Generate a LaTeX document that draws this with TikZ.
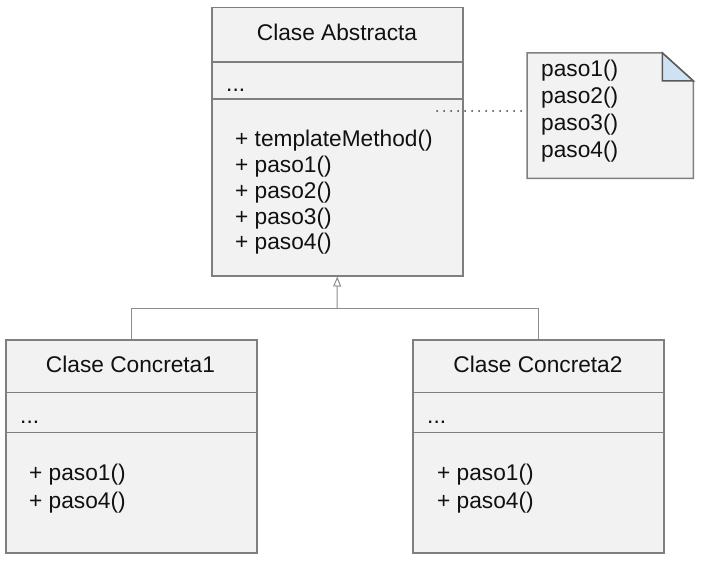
\documentclass[tikz,border=0pt]{standalone}
\usepackage{fontspec}
\setmainfont{Liberation Sans}
\usetikzlibrary{arrows.meta}

\definecolor{boxfill}{HTML}{F2F2F2}
\definecolor{boxline}{HTML}{7F7F7F}
\definecolor{linkline}{HTML}{8C8C8C}
\definecolor{foldfill}{HTML}{CFE2F3}
\definecolor{dotline}{HTML}{2E4458}
\definecolor{txt}{HTML}{111111}

\begin{document}
\begin{tikzpicture}[
                x=1pt, y=-1pt,
                classbox/.style={draw=boxline, fill=boxfill, line width=1.5pt,
                    inner sep=0pt, anchor=north west},
                divider/.style={draw=boxline, line width=1.5pt},
                link/.style={draw=linkline, line width=1pt},
                label/.style={inner sep=0pt, text=txt,
                    font=\fontsize{22.7}{25.7}\selectfont}
            ]
            \useasboundingbox (0, 0) rectangle (718, 575);

            % class boxes
            \node[classbox, minimum width=251pt, minimum height=268pt] (abs) at (211, 7) {};
            \node[classbox, minimum width=251pt, minimum height=213pt] (cc1) at (5, 339) {};
            \node[classbox, minimum width=251pt, minimum height=213pt] (cc2) at (412, 339) {};

            \foreach \n/\a/\b in {abs/55/92, cc1/53.5/93.5, cc2/53.5/93.5} {
                \draw[divider] ([yshift=-\a pt]\n.north west) -- ([yshift=-\a pt]\n.north east);
                \draw[divider] ([yshift=-\b pt]\n.north west) -- ([yshift=-\b pt]\n.north east);
            }

            % note
            \node[inner sep=0pt, minimum width=166pt, minimum height=125pt, anchor=north west] (note) at (527, 53) {};
            \draw[draw=boxline, fill=boxfill, line width=1.5pt]
                (note.south west) -- (note.north west) -- ([xshift=-31pt]note.north east)
                -- ([yshift=-28pt]note.north east) -- (note.south east) -- cycle;
            \draw[draw=boxline!70!black, fill=foldfill, line width=1.5pt]
                ([xshift=-31pt]note.north east) -- ([xshift=-31pt, yshift=-28pt]note.north east)
                -- ([yshift=-28pt]note.north east) -- cycle;

            % texts
            \node[label, anchor=base] (absname) at (337, 41) {Clase Abstracta};
            \node[label, anchor=base west] (absattr) at (226, 92) {...};
            \foreach \m [count=\i] in {templateMethod(), paso1(), paso2(), paso3(), paso4()} {
                \node[label, anchor=base west] (absop\i) at (235, {147+25.7*(\i-1)}) {+ \m};
            }

            \node[label, anchor=base] (cc1name) at (130.5, 372) {Clase Concreta1};
            \node[label, anchor=base] (cc2name) at (538, 372) {Clase Concreta2};
            \node[label, anchor=base west] (cc1attr) at (20, 423) {...};
            \node[label, anchor=base west] (cc2attr) at (427, 423) {...};
            \foreach \m [count=\i] in {paso1(), paso4()} {
                \node[label, anchor=base west] (cc1op\i) at (29, {480+28*(\i-1)}) {+ \m};
                \node[label, anchor=base west] (cc2op\i) at (437, {480+28*(\i-1)}) {+ \m};
            }

            \foreach \i in {1, ..., 4} {
                \node[label, anchor=base west] (step\i) at (541, {77+27*(\i-1)}) {paso\i()};
            }

            % connectors
            \coordinate (fork) at (337, 308);
            \draw[link] (cc1.north) |- (fork);
            \draw[link] (cc2.north) |- (fork);
            \draw[link, -{Triangle[open, length=10pt, width=8pt]}] (fork) -- (abs.south);

            \coordinate (anchorpt) at (437, 111);
            \draw[dotline, line width=2pt, line cap=round, dash pattern=on 0pt off 7pt]
                (anchorpt) -- (anchorpt -| note.west);
        \end{tikzpicture}
\end{document}
